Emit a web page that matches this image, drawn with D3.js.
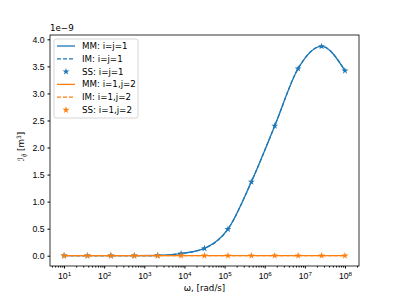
<!DOCTYPE html>
<html>
<head>
<meta charset="utf-8">
<script src="https://cdn.jsdelivr.net/npm/d3@7"></script>
<style>
body { margin: 0; background: #fff; }
svg { font-family: "DejaVu Sans", sans-serif; }
.tick text { font-size: 8.7px; fill: #000; }
</style>
</head>
<body>
<script>
// frequencies (rad/s), 13 log-spaced points from 1e1 to 1e8
var omegaExp = [1, 1.583, 2.167, 2.75, 3.333, 3.917, 4.5, 5.083, 5.667, 6.25, 6.833, 7.417, 8];
// values in units of 1e-9 m^3
var mm11 = [0, 0, 0, 0, 0.004, 0.04, 0.135, 0.49, 1.365, 2.40, 3.46, 3.87, 3.42];
var mm12 = [0, 0, 0, 0, 0, 0, 0, 0, 0, 0, 0, 0, 0];
var yTicks = [0, 0.5, 1.0, 1.5, 2.0, 2.5, 3.0, 3.5, 4.0];
var xTicks = [1e1, 1e2, 1e3, 1e4, 1e5, 1e6, 1e7, 1e8];
var legendLabels = ["MM: i=j=1", "IM: i=j=1", "SS: i=j=1", "MM: i=1,j=2", "IM: i=1,j=2", "SS: i=1,j=2"];

var svgWidth = 399, svgHeight = 299;
var margin = { top: 35, right: 40, bottom: 33, left: 50 };
var chartWidth = svgWidth - margin.left - margin.right;
var chartHeight = svgHeight - margin.top - margin.bottom;

var blue = "#1f77b4", orange = "#ff7f0e";

var svg = d3.select("body").append("svg")
    .attr("width", svgWidth)
    .attr("height", svgHeight);

var g = svg.append("g")
    .attr("transform", `translate(${margin.left}, ${margin.top})`);

var xScale = d3.scaleLog()
    .domain([Math.pow(10, 0.65), Math.pow(10, 8.35)])
    .range([0, chartWidth]);

var yScale = d3.scaleLinear()
    .domain([-0.19, 4.08])
    .range([chartHeight, 0]);

var data11 = omegaExp.map((e, i) => ({ w: Math.pow(10, e), v: mm11[i] }));
var data12 = omegaExp.map((e, i) => ({ w: Math.pow(10, e), v: mm12[i] }));

// axes
var minorTicks = [];
for (var d = 0; d <= 8; d++) {
    for (var k = 2; k <= 9; k++) {
        var t = k * Math.pow(10, d);
        if (t > xScale.domain()[0] && t < xScale.domain()[1]) minorTicks.push(t);
    }
}

g.append("g")
    .attr("transform", `translate(0, ${chartHeight})`)
    .call(d3.axisBottom(xScale).tickValues(minorTicks).tickSize(1.5).tickFormat(""))
    .call(a => a.select(".domain").remove());

var xAxisG = g.append("g")
    .attr("transform", `translate(0, ${chartHeight})`)
    .call(d3.axisBottom(xScale).tickValues(xTicks).tickSize(2.5).tickPadding(3).tickFormat(""))
    .call(a => a.select(".domain").remove());

// 10^n labels with a real superscript
xAxisG.selectAll(".tick").append("text")
    .attr("y", 13)
    .attr("text-anchor", "middle")
    .attr("fill", "#000")
    .attr("font-size", 8.7)
    .each(function (v) {
        var t = d3.select(this);
        t.append("tspan").text("10");
        t.append("tspan").attr("dy", -3.5).attr("font-size", 6.2).text(Math.round(Math.log10(v)));
    });

g.append("g")
    .call(d3.axisLeft(yScale).tickValues(yTicks).tickSize(2.5).tickPadding(3).tickFormat(d3.format(".1f")))
    .call(a => a.select(".domain").remove());

g.append("rect")
    .attr("width", chartWidth)
    .attr("height", chartHeight)
    .attr("fill", "none")
    .attr("stroke", "#000")
    .attr("stroke-width", 0.8);

// lines
var line = d3.line()
    .x(d => xScale(d.w))
    .y(d => yScale(d.v))
    .curve(d3.curveMonotoneX);

var star = d3.symbol().type(d3.symbolStar).size(15);

[[data11, blue], [data12, orange]].forEach(function (s) {
    g.append("path").datum(s[0])
        .attr("d", line).attr("fill", "none")
        .attr("stroke", s[1]).attr("stroke-width", 1.3);
    g.append("path").datum(s[0])
        .attr("d", line).attr("fill", "none")
        .attr("stroke", s[1]).attr("stroke-width", 1.3)
        .attr("stroke-dasharray", "4,2");
    g.selectAll(null).data(s[0]).enter()
        .append("path")
        .attr("d", star)
        .attr("transform", d => `translate(${xScale(d.w)}, ${yScale(d.v)})`)
        .attr("fill", s[1]);
});

// offset text
g.append("text")
    .attr("x", 0)
    .attr("y", -4)
    .attr("font-size", 8.7)
    .text("1e\u22129");

// axis labels
svg.append("text")
    .attr("transform", `translate(${margin.left + chartWidth / 2}, ${svgHeight - 8})`)
    .attr("text-anchor", "middle")
    .attr("font-size", 8.7)
    .text("\u03c9, [rad/s]");

var yl = svg.append("text")
    .attr("transform", `translate(24, ${margin.top + chartHeight / 2 - 4}) rotate(-90)`)
    .attr("text-anchor", "middle")
    .attr("font-size", 8.7);
yl.append("tspan").attr("font-style", "italic").text("\u2110");
yl.append("tspan").attr("font-size", 6).attr("font-style", "italic").attr("dy", 2).text("ij");
yl.append("tspan").attr("dy", -2).text(" [m");
yl.append("tspan").attr("font-size", 6).attr("dy", -3).text("3");
yl.append("tspan").attr("dy", 3).text("]");

// legend
var legend = g.append("g").attr("transform", "translate(4, 4)");
legend.append("rect")
    .attr("width", 84).attr("height", 79)
    .attr("rx", 2)
    .attr("fill", "#fff").attr("fill-opacity", 0.8)
    .attr("stroke", "#ccc").attr("stroke-width", 0.8);

var legendColors = [blue, blue, blue, orange, orange, orange];
legendLabels.forEach(function (lab, i) {
    var yy = 7 + i * 12.8;
    var type = i % 3;
    if (type === 2) {
        legend.append("path").attr("d", star)
            .attr("transform", `translate(12, ${yy})`)
            .attr("fill", legendColors[i]);
    } else {
        legend.append("line")
            .attr("x1", 3).attr("x2", 21).attr("y1", yy).attr("y2", yy)
            .attr("stroke", legendColors[i]).attr("stroke-width", 1.3)
            .attr("stroke-dasharray", type === 1 ? "4,2" : null);
    }
    legend.append("text")
        .attr("x", 28).attr("y", yy + 3)
        .attr("font-size", 8.7)
        .text(lab);
});
</script>
</body>
</html>
